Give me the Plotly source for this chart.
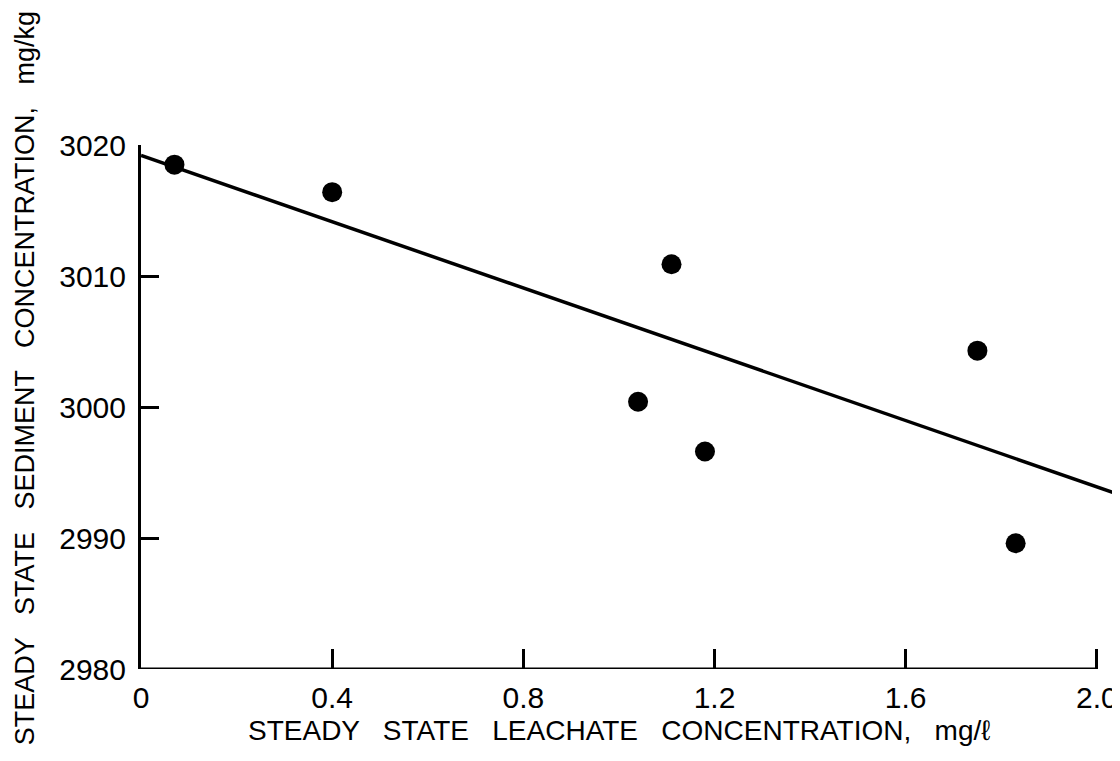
import plotly.graph_objects as go

leachate = [0.07, 0.40, 1.11, 1.04, 1.18, 1.75, 1.83]
sediment = [3018.5, 3016.4, 3010.9, 3000.4, 2996.6, 3004.3, 2989.6]

# fitted line end points (runs slightly past the axis end)
fit_x = [0.0, 2.04]
fit_y = [3019.2, 2993.4]

x_ticks = [0, 0.4, 0.8, 1.2, 1.6, 2.0]
x_labels = ['0', '0.4', '0.8', '1.2', '1.6', '2.0']
y_ticks = [2980, 2990, 3000, 3010, 3020]

font = 'Liberation Sans'

fig = go.Figure()
fig.add_trace(go.Scatter(
    x=fit_x, y=fit_y, mode='lines',
    line=dict(color='black', width=3.5),
    showlegend=False, hoverinfo='skip',
))
fig.add_trace(go.Scatter(
    x=leachate, y=sediment, mode='markers',
    marker=dict(color='black', size=20),
    showlegend=False,
))

# x axis line stops at the last tick
fig.add_shape(type='line', xref='x', yref='y',
              x0=x_ticks[0], x1=x_ticks[-1], y0=y_ticks[0], y1=y_ticks[0],
              line=dict(color='black', width=3))

fig.update_xaxes(
    range=[0, 2.04], showgrid=False, zeroline=False, showline=False, automargin=False,
    tickvals=x_ticks, ticktext=x_labels,
    ticks='inside', ticklen=20, tickwidth=2.5, tickcolor='black',
    ticklabelstandoff=8,
    tickfont=dict(family=font, size=30, color='black'),
)
fig.update_yaxes(
    range=[2980, 3020], showgrid=False, zeroline=False, automargin=False,
    showline=True, linecolor='black', linewidth=3,
    tickvals=y_ticks, ticks='inside', ticklen=18, tickwidth=2.5, tickcolor='black',
    ticklabelstandoff=6,
    tickfont=dict(family=font, size=30, color='black'),
)

fig.add_annotation(
    text='STEADY   STATE   LEACHATE   CONCENTRATION,   mg/ℓ',
    xref='paper', yref='paper', x=0.49, y=-0.117, xanchor='center', yanchor='middle',
    showarrow=False,
    font=dict(family=font, size=28, color='black'),
)
fig.add_annotation(
    text='STEADY   STATE   SEDIMENT   CONCENTRATION,   mg/kg',
    xref='paper', yref='paper', x=-0.119, y=0.555, xanchor='center', yanchor='middle',
    textangle=-90, showarrow=False,
    font=dict(family=font, size=27, color='black'),
)

fig.update_layout(
    width=1112, height=753,
    plot_bgcolor='#ffffff', paper_bgcolor='#ffffff',
    margin=dict(l=133, r=4, t=137, b=92),
)

fig.write_html('out.html')
